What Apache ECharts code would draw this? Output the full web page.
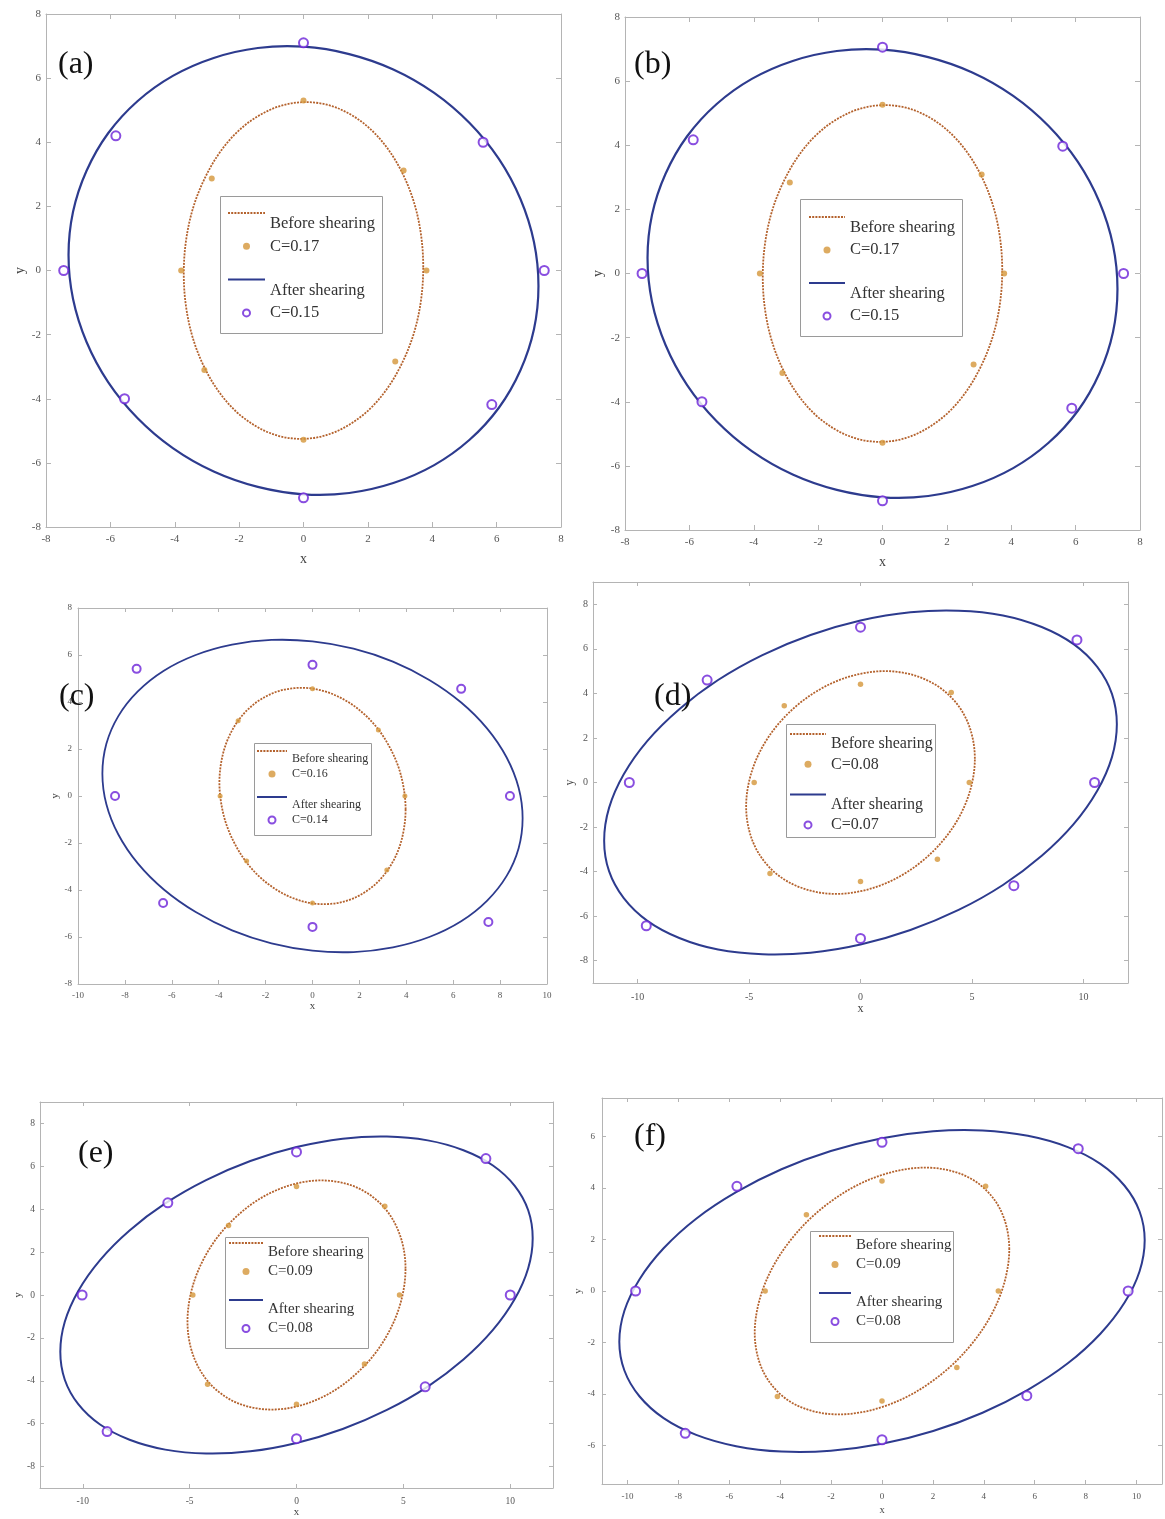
<!DOCTYPE html>
<html>
<head>
<meta charset="utf-8">
<script src="https://cdn.jsdelivr.net/npm/echarts@6/dist/echarts.min.js"></script>
<style>
html,body{margin:0;padding:0;background:#fff;}
#chart{width:1165px;height:1519px;}
</style>
</head>
<body>
<div id="chart"></div>
<script>
// ---------------- DATA ----------------
const panelLabels = ['(a)', '(b)', '(c)', '(d)', '(e)', '(f)'];
const beforeText = 'Before shearing';
const afterText = 'After shearing';
const beforeC = ['C=0.17', 'C=0.17', 'C=0.16', 'C=0.08', 'C=0.09', 'C=0.09'];
const afterC  = ['C=0.15', 'C=0.15', 'C=0.14', 'C=0.07', 'C=0.08', 'C=0.08'];

// axis ranges and tick labels
const xRanges = [[-8, 8], [-8, 8], [-10, 10], [-12, 12], [-12, 12], [-11, 11]];
const yRanges = [[-8, 8], [-8, 8], [-8, 8], [-9, 9], [-9, 9], [-7.5, 7.5]];
const ticksPm8by2 = [-8, -6, -4, -2, 0, 2, 4, 6, 8];
const ticksPm10by2 = [-10, -8, -6, -4, -2, 0, 2, 4, 6, 8, 10];
const ticksPm10by5 = [-10, -5, 0, 5, 10];
const ticksPm6by2 = [-6, -4, -2, 0, 2, 4, 6];
const xTicks = [ticksPm8by2, ticksPm8by2, ticksPm10by2, ticksPm10by5, ticksPm10by5, ticksPm10by2];
const yTicks = [ticksPm8by2, ticksPm8by2, ticksPm8by2, ticksPm8by2, ticksPm8by2, ticksPm6by2];

// (a) outline of the sheared ("after") and original ("before") curves, and the marked points
const aOuter = [[7.30,-0.48],[7.16,0.89],[6.74,2.23],[6.07,3.48],[5.16,4.60],[4.06,5.54],[2.79,6.27],[1.42,6.75],[0,6.98],[-1.42,6.94],[-2.79,6.63],[-4.06,6.07],[-5.16,5.28],[-6.07,4.28],[-6.74,3.11],[-7.16,1.83],
  [-7.30,0.48],[-7.16,-0.89],[-6.74,-2.23],[-6.07,-3.48],[-5.16,-4.60],[-4.06,-5.54],[-2.79,-6.27],[-1.42,-6.75],[0,-6.98],[1.42,-6.94],[2.79,-6.63],[4.06,-6.07],[5.16,-5.28],[6.07,-4.28],[6.74,-3.11],[7.16,-1.83]];
const aInner = [[3.72,0.10],[3.65,1.12],[3.44,2.10],[3.09,3.00],[2.63,3.78],[2.07,4.42],[1.42,4.89],[0.73,5.17],[0,5.25],[-0.73,5.13],[-1.42,4.81],[-2.07,4.31],[-2.63,3.64],[-3.09,2.83],[-3.44,1.92],[-3.65,0.93],
  [-3.72,-0.10],[-3.65,-1.12],[-3.44,-2.10],[-3.09,-3.00],[-2.63,-3.78],[-2.07,-4.42],[-1.42,-4.89],[-0.73,-5.17],[0,-5.25],[0.73,-5.13],[1.42,-4.81],[2.07,-4.31],[2.63,-3.64],[3.09,-2.83],[3.44,-1.92],[3.65,-0.93]];
const aAfterPts = [[0,7.1],[-5.83,4.2],[5.58,4.0],[-7.45,0],[7.48,0],[-5.56,-4.0],[5.85,-4.18],[0,-7.09]];
const aBeforePts = [[0,5.3],[-2.85,2.87],[3.11,3.12],[-3.8,0],[3.82,0],[-3.08,-3.1],[2.85,-2.84],[0,-5.28]];

// (b)
const bOuter = [[7.30,-0.48],[7.16,0.89],[6.74,2.23],[6.07,3.48],[5.16,4.60],[4.06,5.54],[2.79,6.27],[1.42,6.75],[0,6.98],[-1.42,6.94],[-2.79,6.63],[-4.06,6.07],[-5.16,5.28],[-6.07,4.28],[-6.74,3.11],[-7.16,1.83],
  [-7.30,0.48],[-7.16,-0.89],[-6.74,-2.23],[-6.07,-3.48],[-5.16,-4.60],[-4.06,-5.54],[-2.79,-6.27],[-1.42,-6.75],[0,-6.98],[1.42,-6.94],[2.79,-6.63],[4.06,-6.07],[5.16,-5.28],[6.07,-4.28],[6.74,-3.11],[7.16,-1.83]];
const bInner = [[3.72,0.10],[3.65,1.12],[3.44,2.10],[3.09,3.00],[2.63,3.78],[2.07,4.42],[1.42,4.89],[0.73,5.17],[0,5.25],[-0.73,5.13],[-1.42,4.81],[-2.07,4.31],[-2.63,3.64],[-3.09,2.83],[-3.44,1.92],[-3.65,0.93],
  [-3.72,-0.10],[-3.65,-1.12],[-3.44,-2.10],[-3.09,-3.00],[-2.63,-3.78],[-2.07,-4.42],[-1.42,-4.89],[-0.73,-5.17],[0,-5.25],[0.73,-5.13],[1.42,-4.81],[2.07,-4.31],[2.63,-3.64],[3.09,-2.83],[3.44,-1.92],[3.65,-0.93]];
const bAfterPts = [[0,7.06],[-5.88,4.17],[5.6,3.97],[-7.47,0],[7.49,0],[-5.61,-4.0],[5.88,-4.2],[0,-7.09]];
const bBeforePts = [[0,5.26],[-2.88,2.84],[3.08,3.09],[-3.81,0],[3.78,0],[-3.11,-3.1],[2.83,-2.84],[0,-5.28]];

// (c)
const cOuter = [[8.96,-0.95],[8.79,0.35],[8.28,1.64],[7.45,2.87],[6.34,3.98],[4.98,4.94],[3.43,5.72],[1.75,6.27],[0,6.58],[-1.75,6.64],[-3.43,6.44],[-4.98,6.00],[-6.34,5.33],[-7.45,4.45],[-8.28,3.40],[-8.79,2.22],
  [-8.96,0.95],[-8.79,-0.35],[-8.28,-1.64],[-7.45,-2.87],[-6.34,-3.98],[-4.98,-4.94],[-3.43,-5.72],[-1.75,-6.27],[0,-6.58],[1.75,-6.64],[3.43,-6.44],[4.98,-6.00],[6.34,-5.33],[7.45,-4.45],[8.28,-3.40],[8.79,-2.22]];
const cInner = [[3.97,-0.57],[3.89,0.33],[3.67,1.22],[3.30,2.06],[2.81,2.83],[2.21,3.48],[1.52,4.00],[0.77,4.37],[0,4.57],[-0.77,4.59],[-1.52,4.44],[-2.21,4.11],[-2.81,3.63],[-3.30,3.01],[-3.67,2.27],[-3.89,1.45],
  [-3.97,0.57],[-3.89,-0.33],[-3.67,-1.22],[-3.30,-2.06],[-2.81,-2.83],[-2.21,-3.48],[-1.52,-4.00],[-0.77,-4.37],[0,-4.57],[0.77,-4.59],[1.52,-4.44],[2.21,-4.11],[2.81,-3.63],[3.30,-3.01],[3.67,-2.27],[3.89,-1.45]];
const cAfterPts = [[-7.5,5.41],[0,5.58],[6.34,4.56],[-8.42,0],[8.42,0],[-6.37,-4.55],[0,-5.57],[7.5,-5.36]];
const cBeforePts = [[0,4.56],[-3.17,3.2],[2.81,2.81],[-3.94,0],[3.94,0],[-2.81,-2.77],[3.17,-3.15],[0,-4.55]];

// (d)
const dOuter = [[11.50,2.61],[11.28,3.98],[10.62,5.19],[9.56,6.21],[8.13,6.98],[6.39,7.50],[4.40,7.71],[2.24,7.64],[0,7.27],[-2.24,6.62],[-4.40,5.72],[-6.39,4.60],[-8.13,3.29],[-9.56,1.87],[-10.62,0.37],[-11.28,-1.14],
  [-11.50,-2.61],[-11.28,-3.98],[-10.62,-5.19],[-9.56,-6.21],[-8.13,-6.98],[-6.39,-7.50],[-4.40,-7.71],[-2.24,-7.64],[0,-7.27],[2.24,-6.62],[4.40,-5.72],[6.39,-4.60],[8.13,-3.29],[9.56,-1.87],[10.62,-0.37],[11.28,1.14]];
const dInner = [[5.13,1.07],[5.03,2.00],[4.74,2.86],[4.27,3.60],[3.63,4.21],[2.85,4.65],[1.96,4.92],[1.00,5.00],[0,4.88],[-1.00,4.58],[-1.96,4.10],[-2.85,3.46],[-3.63,2.69],[-4.27,1.82],[-4.74,0.88],[-5.03,-0.10],
  [-5.13,-1.07],[-5.03,-2.00],[-4.74,-2.86],[-4.27,-3.60],[-3.63,-4.21],[-2.85,-4.65],[-1.96,-4.92],[-1.00,-5.00],[0,-4.88],[1.00,-4.58],[1.96,-4.10],[2.85,-3.46],[3.63,-2.69],[4.27,-1.82],[4.74,-0.88],[5.03,0.10]];
const dAfterPts = [[-6.88,4.6],[0,6.97],[9.71,6.4],[-10.37,0],[10.5,0],[-9.61,-6.43],[0,-7.0],[6.88,-4.63]];
const dBeforePts = [[0,4.41],[-3.42,3.44],[4.07,4.04],[-4.77,0],[4.88,0],[-4.06,-4.08],[3.45,-3.44],[0,-4.44]];

// (e)
const eOuter = [[11.05,2.65],[10.84,3.95],[10.21,5.09],[9.19,6.04],[7.81,6.75],[6.14,7.21],[4.23,7.39],[2.16,7.29],[0,6.90],[-2.16,6.25],[-4.23,5.36],[-6.14,4.27],[-7.81,3.01],[-9.19,1.63],[-10.21,0.19],[-10.84,-1.25],
  [-11.05,-2.65],[-10.84,-3.95],[-10.21,-5.09],[-9.19,-6.04],[-7.81,-6.75],[-6.14,-7.21],[-4.23,-7.39],[-2.16,-7.29],[0,-6.90],[2.16,-6.25],[4.23,-5.36],[6.14,-4.27],[7.81,-3.01],[9.19,-1.63],[10.21,-0.19],[10.84,1.25]];
const eInner = [[5.10,1.23],[5.00,2.22],[4.71,3.12],[4.24,3.91],[3.61,4.54],[2.83,5.01],[1.95,5.27],[1.00,5.34],[0,5.20],[-1.00,4.86],[-1.95,4.34],[-2.83,3.64],[-3.61,2.81],[-4.24,1.87],[-4.71,0.86],[-5.00,-0.19],
  [-5.10,-1.23],[-5.00,-2.22],[-4.71,-3.12],[-4.24,-3.91],[-3.61,-4.54],[-2.83,-5.01],[-1.95,-5.27],[-1.00,-5.34],[0,-5.20],[1.00,-4.86],[1.95,-4.34],[2.83,-3.64],[3.61,-2.81],[4.24,-1.87],[4.71,-0.86],[5.00,0.19]];
const eAfterPts = [[0,6.67],[-6.02,4.3],[8.86,6.36],[-10.03,0],[10.0,0],[-8.86,-6.37],[0,-6.7],[6.02,-4.28]];
const eBeforePts = [[0,5.06],[-3.18,3.24],[4.13,4.14],[-4.85,0],[4.82,0],[-4.16,-4.16],[3.18,-3.22],[0,-5.09]];

// (f)
const fOuter = [[10.32,1.97],[10.12,3.09],[9.53,4.09],[8.58,4.94],[7.30,5.59],[5.73,6.03],[3.95,6.24],[2.01,6.21],[0,5.94],[-2.01,5.44],[-3.95,4.73],[-5.73,3.84],[-7.30,2.81],[-8.58,1.66],[-9.53,0.45],[-10.12,-0.77],
  [-10.32,-1.97],[-10.12,-3.09],[-9.53,-4.09],[-8.58,-4.94],[-7.30,-5.59],[-5.73,-6.03],[-3.95,-6.24],[-2.01,-6.21],[0,-5.94],[2.01,-5.44],[3.95,-4.73],[5.73,-3.84],[7.30,-2.81],[8.58,-1.66],[9.53,-0.45],[10.12,0.77]];
const fInner = [[5.00,1.62],[4.90,2.47],[4.62,3.22],[4.16,3.85],[3.54,4.34],[2.78,4.65],[1.91,4.79],[0.98,4.74],[0,4.51],[-0.98,4.11],[-1.91,3.55],[-2.78,2.85],[-3.54,2.04],[-4.16,1.16],[-4.62,0.23],[-4.90,-0.71],
  [-5.00,-1.62],[-4.90,-2.47],[-4.62,-3.22],[-4.16,-3.85],[-3.54,-4.34],[-2.78,-4.65],[-1.91,-4.79],[-0.98,-4.74],[0,-4.51],[0.98,-4.11],[1.91,-3.55],[2.78,-2.85],[3.54,-2.04],[4.16,-1.16],[4.62,-0.23],[4.90,0.71]];
const fAfterPts = [[0,5.78],[-5.7,4.07],[7.71,5.53],[-9.68,0],[9.67,0],[-7.73,-5.53],[0,-5.78],[5.69,-4.07]];
const fBeforePts = [[0,4.27],[-2.97,2.96],[4.07,4.07],[-4.59,0],[4.57,0],[-4.11,-4.1],[2.94,-2.97],[0,-4.27]];

const outerCurves = [aOuter, bOuter, cOuter, dOuter, eOuter, fOuter];
const innerCurves = [aInner, bInner, cInner, dInner, eInner, fInner];
const afterPts = [aAfterPts, bAfterPts, cAfterPts, dAfterPts, eAfterPts, fAfterPts];
const beforePts = [aBeforePts, bBeforePts, cBeforePts, dBeforePts, eBeforePts, fBeforePts];

// ---------------- LAYOUT / STYLE ----------------
const FONT = '"Liberation Serif", "Times New Roman", serif';
const FRAME = '#b4b4b4';
const LABEL = '#555';
const ORANGE_LINE = '#b4622d';
const NAVY = '#2d3b8e';
const ORANGE_PT = '#d4963a';
const PURPLE = '#6c22d8';
const DOT_DASH = [2, 1.2];

const layout = [
  {id:'a', grid:{left:46, top:14, width:515, height:513}, label:[58,49],
   lg:{x:228, icon1:213, w:37, fs:16.5, lh:22, gap:0.3}, frame:[220.5,196.5,162,137],
   tf:11, nf:14, tl:5, xm:7, ym:5, xng:25, yng:19, dot:6, ring:9, ringW:3, aw:2.2},
  {id:'b', grid:{left:625, top:17, width:515, height:513}, label:[634,49],
   lg:{x:809, icon1:217, w:36, fs:16.5, lh:22, gap:0}, frame:[800.5,199.5,162,137],
   tf:11, nf:14, tl:5, xm:7, ym:5, xng:25, yng:20, dot:6, ring:9, ringW:3, aw:2.2},
  {id:'c', grid:{left:78, top:608, width:469, height:376}, label:[59,681],
   lg:{x:257, icon1:751, w:30, fs:12, lh:15, gap:0.5}, frame:[254.5,743.5,117,92],
   tf:9, nf:11, tl:4, xm:7, ym:6, xng:15, yng:14, dot:5, ring:8, ringW:2.8, aw:1.8},
  {id:'d', grid:{left:593, top:582, width:535, height:401}, label:[654,681],
   lg:{x:790, icon1:734, w:36, fs:16, lh:20, gap:0.3}, frame:[786.5,724.5,149,113],
   tf:10, nf:12, tl:4, xm:9, ym:5, xng:20, yng:17, dot:5.5, ring:9, ringW:3, aw:2},
  {id:'e', grid:{left:40, top:1102, width:513, height:386}, label:[78,1138],
   lg:{x:229, icon1:1243, w:34, fs:15, lh:19, gap:0}, frame:[225.5,1237.5,143,111],
   tf:9.5, nf:11, tl:4, xm:8, ym:5, xng:18, yng:13, dot:5.5, ring:9, ringW:3, aw:2},
  {id:'f', grid:{left:602, top:1098, width:560, height:386}, label:[634,1121],
   lg:{x:819, icon1:1236, w:32, fs:15, lh:19, gap:0}, frame:[810.5,1231.5,143,111],
   tf:9, nf:10.5, tl:4, xm:8, ym:7, xng:21, yng:12, dot:5.5, ring:9, ringW:3, aw:2}
];

// legend icon shapes (solid bar and dotted bar), as svg paths
function solidIcon(w) { return 'path://M0,0h' + w + 'v2h-' + w + 'z'; }
function dottedIcon(w) {
  let d = 'path://';
  for (let x = 0; x < w - 0.5; x += DOT_DASH[0] + DOT_DASH[1]) {
    const dw = Math.min(DOT_DASH[0], w - x);
    d += 'M' + x.toFixed(2) + ',0h' + dw.toFixed(2) + 'v2h-' + dw.toFixed(2) + 'z';
  }
  return d;
}

// a closed smooth outline through the curve points, drawn with the axis scales
function outlineSeries(name, curve, xi, yi, color, width, dash) {
  return {
    type:'custom', name:name, coordinateSystem:'cartesian2d', xAxisIndex:xi, yAxisIndex:yi,
    data:curve, silent:true, animation:false, z:2,
    renderItem:function (params, api) {
      if (params.dataIndex !== 0) return null;
      const pts = curve.map(function (pt) { return api.coord(pt); });
      return {
        type:'polygon',
        shape:{points:pts, smooth:0.34},
        style:{fill:'none', stroke:color, lineWidth:width, lineDash:dash || null, lineJoin:'round'}
      };
    }
  };
}

const grids = [], xAxes = [], yAxes = [], series = [], legends = [], titles = [], graphics = [];

layout.forEach(function (p, i) {
  grids.push(Object.assign({containLabel:false}, p.grid));

  const lineCommon = {show:true, onZero:false, lineStyle:{color:FRAME, width:1}};
  const tickStyle = {color:FRAME, width:1};
  const labelStyle = {color:LABEL, fontFamily:FONT, fontSize:p.tf};
  const nameStyle = {color:'#444', fontFamily:FONT, fontSize:p.nf};

  xAxes.push({
    type:'value', gridIndex:i, position:'bottom', min:xRanges[i][0], max:xRanges[i][1],
    axisLine:lineCommon, splitLine:{show:false},
    axisTick:{show:true, inside:true, length:p.tl, lineStyle:tickStyle, customValues:xTicks[i]},
    axisLabel:Object.assign({show:true, margin:p.xm, customValues:xTicks[i]}, labelStyle),
    name:'x', nameLocation:'middle', nameGap:p.xng, nameTextStyle:nameStyle
  });
  xAxes.push({
    type:'value', gridIndex:i, position:'top', min:xRanges[i][0], max:xRanges[i][1],
    axisLine:lineCommon, splitLine:{show:false},
    axisTick:{show:true, inside:true, length:p.tl, lineStyle:tickStyle, customValues:xTicks[i]},
    axisLabel:{show:false}
  });
  yAxes.push({
    type:'value', gridIndex:i, position:'left', min:yRanges[i][0], max:yRanges[i][1],
    axisLine:lineCommon, splitLine:{show:false},
    axisTick:{show:true, inside:true, length:p.tl, lineStyle:tickStyle, customValues:yTicks[i]},
    axisLabel:Object.assign({show:true, margin:p.ym, customValues:yTicks[i]}, labelStyle),
    name:'y', nameLocation:'middle', nameRotate:90, nameGap:p.yng, nameTextStyle:nameStyle
  });
  yAxes.push({
    type:'value', gridIndex:i, position:'right', min:yRanges[i][0], max:yRanges[i][1],
    axisLine:lineCommon, splitLine:{show:false},
    axisTick:{show:true, inside:true, length:p.tl, lineStyle:tickStyle, customValues:yTicks[i]},
    axisLabel:{show:false}
  });

  const xi = 2 * i, yi = 2 * i;
  series.push(outlineSeries(p.id + '_bl', innerCurves[i], xi, yi, ORANGE_LINE, 1.8, DOT_DASH));
  series.push(outlineSeries(p.id + '_al', outerCurves[i], xi, yi, NAVY, p.aw, null));
  series.push({
    type:'scatter', name:p.id + '_bp', xAxisIndex:xi, yAxisIndex:yi,
    data:beforePts[i], symbol:'circle', symbolSize:p.dot, silent:true, animation:false, z:3,
    itemStyle:{color:ORANGE_PT}
  });
  series.push({
    type:'scatter', name:p.id + '_ap', xAxisIndex:xi, yAxisIndex:yi,
    data:afterPts[i], symbol:'emptyCircle', symbolSize:p.ring, silent:true, animation:false, z:3,
    itemStyle:{color:PURPLE, borderColor:PURPLE, borderWidth:p.ringW}
  });

  const L = p.lg;
  const texts = {};
  texts[p.id + '_bl'] = '\n' + beforeText;
  texts[p.id + '_bp'] = beforeC[i];
  texts[p.id + '_al'] = '\n' + afterText;
  texts[p.id + '_ap'] = afterC[i];
  legends.push({
    show:true, orient:'vertical', align:'left', left:L.x, top:L.icon1 - L.lh,
    padding:0, itemGap:L.gap, itemWidth:L.w, itemHeight:7, selectedMode:false,
    data:[
      {name:p.id + '_bl', icon:dottedIcon(L.w), itemStyle:{color:ORANGE_LINE, borderWidth:0}},
      {name:p.id + '_bp', icon:'circle', itemStyle:{color:ORANGE_PT, borderWidth:0}},
      {name:p.id + '_al', icon:solidIcon(L.w), itemStyle:{color:NAVY, borderWidth:0}},
      {name:p.id + '_ap', icon:'emptyCircle', itemStyle:{color:PURPLE}}
    ],
    formatter:function (name) { return texts[name]; },
    textStyle:{fontFamily:FONT, fontSize:L.fs, lineHeight:L.lh, color:'#333'}
  });

  titles.push({
    text:panelLabels[i], left:p.label[0], top:p.label[1], padding:0,
    textStyle:{fontFamily:FONT, fontSize:32, fontWeight:'normal', color:'#111'}
  });

  graphics.push({
    type:'rect', z:3, silent:true,
    shape:{x:p.frame[0], y:p.frame[1], width:p.frame[2], height:p.frame[3]},
    style:{fill:'#fff', stroke:'#9a9a9a', lineWidth:1}
  });
});

const chart = echarts.init(document.getElementById('chart'), null, {renderer:'canvas'});
chart.setOption({
  backgroundColor:'#fff',
  animation:false,
  title:titles,
  grid:grids,
  xAxis:xAxes,
  yAxis:yAxes,
  legend:legends,
  graphic:graphics,
  series:series
});
</script>
</body>
</html>
